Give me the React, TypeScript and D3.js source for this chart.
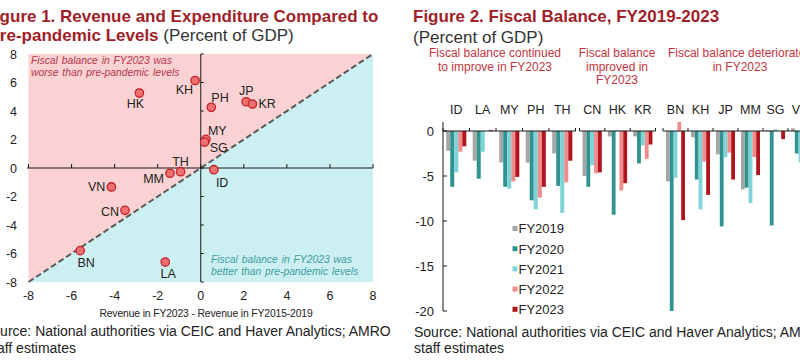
import * as d3 from "d3";

// Figure 1 – scatter: change vs pre-pandemic levels (pp of GDP)
const countries = ["HK", "KH", "PH", "JP", "KR", "MY", "SG", "ID", "TH", "MM", "VN", "CN", "BN", "LA"];
const revenueDiff = [-2.85, -0.26, 0.49, 2.11, 2.4, 0.24, 0.18, 0.61, -0.94, -1.43, -4.15, -3.52, -5.6, -1.65];
const expenditureDiff = [5.26, 6.14, 4.26, 4.65, 4.49, 2.01, 1.82, -0.12, -0.26, -0.37, -1.33, -2.97, -5.8, -6.6];
const scatterTicks = [-8, -6, -4, -2, 0, 2, 4, 6, 8];

// Figure 2 – fiscal balance bars
const groupHeaders = [
  ["Fiscal balance continued", "to improve in FY2023"],
  ["Fiscal balance", "improved in", "FY2023"],
  ["Fiscal balance deteriorated", "in FY2023"],
];
const groupCountries = [
  ["ID", "LA", "MY", "PH", "TH"],
  ["CN", "HK", "KR"],
  ["BN", "KH", "JP", "MM", "SG", "VN"],
];
const barCountries = ["ID", "LA", "MY", "PH", "TH", "CN", "HK", "KR", "BN", "KH", "JP", "MM", "SG", "VN"];
const years = ["FY2019", "FY2020", "FY2021", "FY2022", "FY2023"];
const fy2019 = [-2.2, -3.3, -3.5, -3.5, -2.5, -5.0, -0.6, -0.6, -5.6, -0.7, -2.6, -6.5, 0.1, 0.3];
const fy2020 = [-6.2, -5.3, -6.2, -7.7, -6.1, -6.2, -9.3, -3.6, -20.0, -5.4, -10.6, -6.3, -10.5, -2.5];
const fy2021 = [-4.6, -2.3, -6.4, -8.7, -9.1, -3.8, 0.1, -1.6, -5.2, -8.7, -2.9, -8.0, 0.2, -3.5];
const fy2022 = [-2.3, 0, -5.6, -7.4, -5.7, -4.7, -6.6, -3.1, 1.0, -3.4, -2.4, -2.9, 0, -0.8];
const fy2023 = [-1.7, 0.1, -5.1, -6.2, -3.3, -4.6, -5.8, -1.5, -9.9, -7.1, -5.4, -4.9, -0.9, -3.5];
const barTicks = [0, -5, -10, -15, -20];

const yearColors = ["#a6a6a6", "#31938f", "#7dd3d6", "#f08c8c", "#b0141c"];
const RED = "#a01e28";
const FONT = "'Liberation Sans', Arial, sans-serif";

// label placement for scatter points: anchor, dx, dy
const labelPos: Record<string, [string, number, number]> = {
  HK: ["middle", -4, 15], KH: ["end", -2, 13.5], PH: ["start", 0, -5.5], JP: ["middle", 0, -6.5],
  KR: ["start", 6, 4], MY: ["start", 2, -4.5], SG: ["start", 5, 10], ID: ["start", 2, 17],
  TH: ["middle", 0, -5.5], MM: ["end", -6, 10], VN: ["end", -6, 4], CN: ["end", -6, 6],
  BN: ["middle", 6, 16], LA: ["middle", 3, 16],
};

function Scatter() {
  const x = d3.scaleLinear().domain([-8, 8]).range([28.5, 373]);
  const y = d3.scaleLinear().domain([-8, 8]).range([282, 54]);
  const pts = countries.map((c, i) => ({ c, rx: revenueDiff[i], ey: expenditureDiff[i] }));
  const upper = `M${x(-8)},${y(-8)} L${x(8)},${y(8)} L${x(-8)},${y(8)} Z`;
  const lower = `M${x(-8)},${y(-8)} L${x(8)},${y(8)} L${x(8)},${y(-8)} Z`;
  return (
    <g>
      <path d={upper} fill="#fad2d3" />
      <path d={lower} fill="#cceff1" />
      <line x1={x(-8)} y1={y(-8)} x2={x(8)} y2={y(8)} stroke="#5a5a5a" strokeWidth={2} strokeDasharray="6,3" />
      {/* axes through origin */}
      <line x1={x(-8) - 1.5} x2={x(8)} y1={y(0)} y2={y(0)} stroke="#1a1a1a" />
      <line x1={x(0)} x2={x(0)} y1={y(8)} y2={y(-8)} stroke="#1a1a1a" />
      {scatterTicks.map((t) => (
        <g key={"t" + t}>
          <line x1={x(t)} x2={x(t)} y1={y(0)} y2={y(0) - 4} stroke="#1a1a1a" />
          <line x1={x(0)} x2={x(0) + 3} y1={y(t)} y2={y(t)} stroke="#1a1a1a" />
          <text x={x(t)} y={300} textAnchor="middle" fontSize={12.5} fontFamily={FONT} fill="#222">{t}</text>
          <text x={17} y={y(t) + 4.5} textAnchor="end" fontSize={12.5} fontFamily={FONT} fill="#222">{t}</text>
        </g>
      ))}
      <text x={31} y={63.5} fontSize={10.3} fontStyle="italic" fontFamily={FONT} fill="#b2364a" wordSpacing={1}>
        Fiscal balance in FY2023 was
      </text>
      <text x={31} y={75.5} fontSize={10.3} fontStyle="italic" fontFamily={FONT} fill="#b2364a" wordSpacing={1}>
        worse than pre-pandemic levels
      </text>
      <text x={211} y={263} fontSize={10.3} fontStyle="italic" fontFamily={FONT} fill="#3f9e9f" wordSpacing={1}>
        Fiscal balance in FY2023 was
      </text>
      <text x={211} y={275} fontSize={10.3} fontStyle="italic" fontFamily={FONT} fill="#3f9e9f" wordSpacing={1}>
        better than  pre-pandemic levels
      </text>
      {pts.map((p) => (
        <circle key={p.c} cx={x(p.rx)} cy={y(p.ey)} r={4.2} fill="#f07070" stroke="#c0232b" strokeWidth={1.3} />
      ))}
      {pts.map((p) => {
        const [anchor, dx, dy] = labelPos[p.c];
        return (
          <text key={"l" + p.c} x={x(p.rx) + dx} y={y(p.ey) + dy} textAnchor={anchor as any} fontSize={12.5} fontFamily={FONT} fill="#222">
            {p.c}
          </text>
        );
      })}
      <text x={206} y={317} textAnchor="middle" fontSize={10.4} fontFamily={FONT} fill="#222" letterSpacing={-0.15}>
        Revenue in FY2023 - Revenue in FY2015-2019
      </text>
    </g>
  );
}

function Bars() {
  const series = [fy2019, fy2020, fy2021, fy2022, fy2023];
  const y = d3.scaleLinear().domain([-20, 1]).range([311, 122]);
  const axisX = 443;
  const groupRanges: [number, number][] = [[443, 575.5], [579.5, 655.5], [663, 813]];
  const headerX = [495, 617, 740];
  return (
    <g>
      {groupCountries.map((cats, g) => {
        const band = d3.scaleBand().domain(cats).range(groupRanges[g]);
        const bw = band.bandwidth();
        const inner = d3.scaleBand().domain(years).range([bw * 0.12, bw * 0.88]);
        return (
          <g key={"g" + g}>
            {groupHeaders[g].map((line, k) => (
              <text key={k} x={headerX[g]} y={57 + k * 13.5} textAnchor="middle" fontSize={12} fontFamily={FONT} fill="#c23440">
                {line}
              </text>
            ))}
            {cats.map((c) => {
              const idx = barCountries.indexOf(c);
              return (
                <g key={c}>
                  <text x={band(c)! + bw / 2} y={113.5} textAnchor="middle" fontSize={12.5} fontFamily={FONT} fill="#222">{c}</text>
                  {years.map((yr, s) => {
                    const v = series[s][idx];
                    return (
                      <rect
                        key={yr}
                        x={band(c)! + inner(yr)!}
                        width={inner.bandwidth()}
                        y={Math.min(y(v), y(0))}
                        height={Math.abs(y(v) - y(0))}
                        fill={yearColors[s]}
                      />
                    );
                  })}
                </g>
              );
            })}
            <line x1={groupRanges[g][0]} x2={groupRanges[g][1]} y1={y(0)} y2={y(0)} stroke="#1a1a1a" />
            {[...cats.map((c) => band(c)!), groupRanges[g][1]].map((bx, k) => (
              <line key={"tk" + k} x1={bx} x2={bx} y1={y(0)} y2={y(0) - 3} stroke="#1a1a1a" />
            ))}
          </g>
        );
      })}
      <line x1={axisX} x2={axisX} y1={y(1)} y2={y(-20)} stroke="#1a1a1a" />
      {barTicks.map((t) => (
        <g key={"yt" + t}>
          <line x1={axisX} x2={axisX + 4} y1={y(t)} y2={y(t)} stroke="#1a1a1a" />
          <text x={434} y={y(t) + 4.5} textAnchor="end" fontSize={13} fontFamily={FONT} fill="#222">{t}</text>
        </g>
      ))}
      {years.map((yr, s) => (
        <g key={"lg" + yr}>
          <rect x={512.5} y={228.5 + s * 20.2 - 2.5} width={5} height={5} fill={yearColors[s]} />
          <text x={518.5} y={228.5 + s * 20.2 + 4.8} fontSize={13} fontFamily={FONT} fill="#222">{yr}</text>
        </g>
      ))}
    </g>
  );
}

export default function App() {
  return (
    <div style={{ position: "absolute", left: 0, top: 0 }}>
      <svg width={800} height={364} style={{ display: "block", overflow: "hidden", background: "#fff" }}>
        <rect width={800} height={364} fill="#fff" />
        {/* left figure titles */}
        <text x={-15.5} y={22} fontSize={17} fontWeight="bold" fontFamily={FONT} fill={RED}>
          Figure 1. Revenue and Expenditure Compared to
        </text>
        <text x={-11.5} y={41} fontSize={17} fontFamily={FONT} fill={RED}>
          <tspan fontWeight="bold">Pre-pandemic Levels</tspan>
          <tspan fill="#333"> (Percent of GDP)</tspan>
        </text>
        <Scatter />
        <text x={-17} y={336} fontSize={14} fontFamily={FONT} fill="#222">
          Source: National authorities via CEIC and Haver Analytics; AMRO
        </text>
        <text x={-14} y={352.5} fontSize={14} fontFamily={FONT} fill="#222">staff estimates</text>

        {/* right figure titles */}
        <text x={413} y={22} fontSize={17} fontWeight="bold" fontFamily={FONT} fill={RED}>
          Figure 2. Fiscal Balance, FY2019-2023
        </text>
        <text x={413} y={43} fontSize={17} fontFamily={FONT} fill="#333">(Percent of GDP)</text>
        <Bars />
        <text x={414} y={337} fontSize={14} fontFamily={FONT} fill="#222">
          Source: National authorities via CEIC and Haver Analytics; AMRO
        </text>
        <text x={414} y={352.5} fontSize={14} fontFamily={FONT} fill="#222">staff estimates</text>
      </svg>
    </div>
  );
}
